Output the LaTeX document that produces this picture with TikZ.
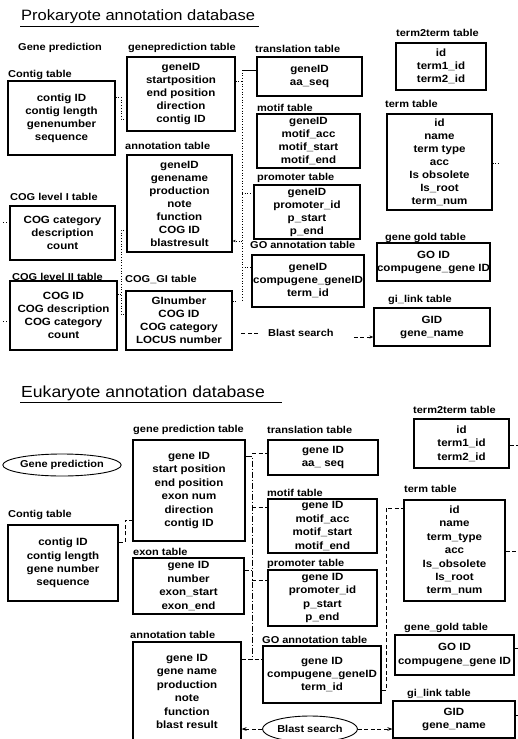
\documentclass[tikz,border=0pt]{standalone}
\usepackage{fontspec}
\setmainfont{Liberation Sans}[FakeStretch=1.1]
\usetikzlibrary{shapes.geometric,arrows.meta}
\tikzset{
  tbl/.style={draw, line width=1.2pt, align=center, inner sep=0pt,
    font=\bfseries\fontsize{10.5}{13.4}\selectfont},
  tblt/.style={tbl, font=\bfseries\fontsize{10.5}{13}\selectfont},
  lbl/.style={anchor=west, inner sep=0pt, font=\bfseries\fontsize{10}{12}\selectfont},
  ttl/.style={anchor=west, inner sep=0pt, font=\fontsize{15}{18}\selectfont},
  ttlb/.style={anchor=west, inner sep=0pt, font=\fontsize{16}{19}\selectfont},
  ell/.style={draw, ellipse, line width=0.9pt, inner sep=0pt,
    font=\bfseries\fontsize{10}{12}\selectfont},
  lnk/.style={line width=0.7pt, dotted},
  dlnk/.style={line width=0.7pt, dash pattern=on 4pt off 2.5pt},
  ddlnk/.style={line width=0.7pt, dash pattern=on 6pt off 2pt on 1pt off 2pt},
}
\newcommand\dbtab[7][tbl]{%
  \node[#1, minimum width={(#5-#3)*1pt}, minimum height={(#6-#4)*1pt}]
    (#2) at ({(#3+#5)/2},{(#4+#6)/2}) {#7};}
\begin{document}
\begin{tikzpicture}[x=1pt,y=-1pt]
\fill[white] (0,0) rectangle (517,739);
\useasboundingbox (0,0) rectangle (517,739);

% ================= Prokaryote =================
\node[ttl] (t1) at (21,17) {Prokaryote annotation database};
\draw[line width=0.8pt] ([yshift=-2pt,xshift=-1pt]t1.south west) -- ([yshift=-2pt,xshift=4pt]t1.south east);

\node[lbl] (lgp0) at (18,48) {Gene prediction};
\node[lbl] (lgp1) at (128,48) {geneprediction table};
\node[lbl] (lct1) at (8,75) {Contig table};
\node[lbl] (lan1) at (125,146) {annotation table};
\node[lbl] (ltr1) at (255,49) {translation table};
\node[lbl] (lmo1) at (257,108) {motif table};
\node[lbl] (lpr1) at (257,178) {promoter table};
\node[lbl] (lgo1) at (250,245) {GO annotation table};
\node[lbl] (ltt1) at (396,33) {term2term table};
\node[lbl] (lte1) at (385,104) {term table};
\node[lbl] (lgg1) at (385,238) {gene gold table};
\node[lbl] (lgi1) at (388,300) {gi\_link table};
\node[lbl] (lcg1) at (10,197) {COG level I table};
\node[lbl] (lcb1) at (12,277) {COG level II table};
\node[lbl] (lci1) at (125,279) {COG\_GI table};
\node[lbl] (bs1) at (268,333) {Blast search};

\dbtab[tblt]{contig1}{8}{81}{115}{155}{contig ID\\contig length\\genenumber\\sequence}
\dbtab[tblt]{gp1}{127}{57}{235}{131}{geneID\\startposition\\end position\\direction\\contig ID}
\dbtab[tblt]{ann1}{127}{155}{232}{252}{geneID\\genename\\production\\note\\function\\COG ID\\blastresult}
\dbtab[tblt]{tr1}{257}{57}{362}{96}{geneID\\aa\_seq}
\dbtab[tblt]{mo1}{257}{114}{360}{168}{geneID\\motif\_acc\\motif\_start\\motif\_end}
\dbtab[tblt]{pr1}{254}{185}{360}{239}{geneID\\promoter\_id\\p\_start\\p\_end}
\dbtab[tblt]{go1}{252}{255}{364}{307}{geneID\\compugene\_geneID\\term\_id}
\dbtab[tblt]{tt1}{396}{43}{486}{90}{id\\term1\_id\\term2\_id}
\dbtab[tblt]{te1}{387}{114}{492}{210}{id\\name\\term type\\acc\\Is obsolete\\Is\_root\\term\_num}
\dbtab[tblt]{gg1}{377}{243}{490}{281}{GO ID\\compugene\_gene ID}
\dbtab[tblt]{gi1}{374}{308}{490}{346}{GID\\gene\_name}
\dbtab[tblt]{cg1}{10}{206}{115}{260}{COG category\\description\\count}
\dbtab[tblt]{cgb1}{10}{281}{117}{350}{COG ID\\COG description\\COG category\\count}
\dbtab[tblt]{cgi1}{126}{291}{232}{350}{GInumber\\COG ID\\COG category\\LOCUS number}

\coordinate (bT1) at (242,70);
\coordinate (bT2) at (242,300);
\draw[lnk] (bT1) -- (bT2);
\draw[line width=0.7pt] (bT1) -- (tr1.west |- bT1);
\draw[lnk] (gp1.east |- 0,81) -- (bT1 |- 0,81);
\draw[lnk] (bT1 |- 0,193) -- (pr1.west |- 0,193);
\draw[lnk,-{Stealth[length=3pt]}] (bT1 |- 0,241) -- (ann1.east |- 0,241);
\draw[lnk] (bT1 |- 0,267) -- (go1.west |- 0,267);
\draw[lnk] (contig1.east |- 0,97) -- (121,97) -- (121,119) -- (gp1.west |- 0,119);
\draw[lnk] (ann1.west |- 0,230) -- (121,230) -- (121,314) -- (cgi1.west |- 0,314);
\draw[lnk] (cgb1.east |- 0,294) -- (121,294);
\draw[lnk] (cg1.west |- 0,222) -- ++(-6,0);
\draw[lnk] (cgb1.west |- 0,321) -- ++(-6,0);
\draw[lnk] (cgi1.east |- 0,301) -- ++(5,0);
\draw[lnk] (te1.east |- 0,163) -- ++(7,0);
\draw[dlnk] ([xshift=-10pt]bs1.west) -- ++(-18,0);
\draw[dlnk,-{Stealth[length=4pt]}] (bs1.east) ++(20,4) -- (gi1.west |- 0,337);

% ================= Eukaryote =================
\node[ttlb] (t2) at (21,393) {Eukaryote annotation database};
\draw[line width=0.8pt] ([yshift=-2pt,xshift=-1pt]t2.south west) -- ([yshift=-2pt,xshift=17pt]t2.south east);

\node[lbl] (lgp2) at (133,430) {gene prediction table};
\node[lbl] (lct2) at (8,515) {Contig table};
\node[lbl] (lex2) at (133,552) {exon table};
\node[lbl] (lan2) at (130,635) {annotation table};
\node[lbl] (ltr2) at (267,430) {translation table};
\node[lbl] (lmo2) at (267,493) {motif table};
\node[lbl] (lpr2) at (267,564) {promoter table};
\node[lbl] (lgo2) at (262,640) {GO annotation table};
\node[lbl] (ltt2) at (413,410) {term2term table};
\node[lbl] (lte2) at (404,489) {term table};
\node[lbl] (lgg2) at (404,628) {gene\_gold table};
\node[lbl] (lgi2) at (407,694) {gi\_link table};

\node[ell, minimum width=110pt, minimum height=22pt] (gpe) at (62,465) {Gene prediction};
\node[ell, minimum width=95pt, minimum height=26pt] (bse) at (310,729) {Blast search};

\dbtab{gp2}{133}{440}{245}{541}{gene ID\\start position\\end position\\exon num\\direction\\contig ID}
\dbtab{contig2}{8}{525}{118}{601}{contig ID\\contig length\\gene number\\sequence}
\dbtab{ex2}{133}{558}{244}{614}{gene ID\\number\\exon\_start\\exon\_end}
\dbtab{ann2}{133}{642}{241}{741}{gene ID\\gene name\\production\\note\\function\\blast result}
\dbtab{tr2}{268}{440}{378}{475}{gene ID\\aa\_ seq}
\dbtab{mo2}{268}{499}{377}{553}{gene ID\\motif\_acc\\motif\_start\\motif\_end}
\dbtab{pr2}{268}{570}{377}{626}{gene ID\\promoter\_id\\p\_start\\p\_end}
\dbtab{go2}{263}{646}{381}{703}{gene ID\\compugene\_geneID\\term\_id}
\dbtab{tt2}{414}{419}{509}{468}{id\\term1\_id\\term2\_id}
\dbtab{te2}{404}{500}{505}{601}{id\\name\\term\_type\\acc\\Is\_obsolete\\Is\_root\\term\_num}
\dbtab{gg2}{395}{635}{514}{675}{GO ID\\compugene\_gene ID}
\dbtab{gi2}{393}{701}{515}{738}{GID\\gene\_name}

\coordinate (bB1) at (252,453);
\coordinate (bB2) at (252,660);
\draw[ddlnk] (gp2.east |- 0,456) -- (bB1 |- 0,456) -- (bB2);
\draw[dlnk] (bB1) -- (tr2.west |- bB1);
\draw[dlnk] (bB1 |- 0,507) -- (mo2.west |- 0,507);
\draw[dlnk] (bB1 |- 0,580) -- (pr2.west |- 0,580);
\draw[dlnk] (ex2.east |- 0,570) -- (bB1 |- 0,570);
\draw[dlnk] (ann2.east |- 0,659) -- (go2.west |- 0,659);
\draw[dlnk] (contig2.east |- 0,542) -- (125,542) -- (125,520) -- (gp2.west |- 0,520);
\draw[dlnk] (go2.east |- 0,690) -- (386,690) -- (386,508) -- (te2.west |- 0,508);
\draw[dlnk,-{Stealth[length=5pt]}] (bse.west) -- (ann2.east |- bse.west);
\draw[dlnk,-{Stealth[length=5pt]}] (bse.east) -- (gi2.west |- bse.east);
\draw[dlnk] (tt2.east |- 0,445) -- ++(8,0);
\draw[dlnk] (te2.east |- 0,551) -- ++(10,0);
\draw[dlnk] (gg2.east |- 0,648) -- ++(5,0);
\draw[dlnk] (gi2.east |- 0,715) -- ++(5,0);
\end{tikzpicture}
\end{document}
